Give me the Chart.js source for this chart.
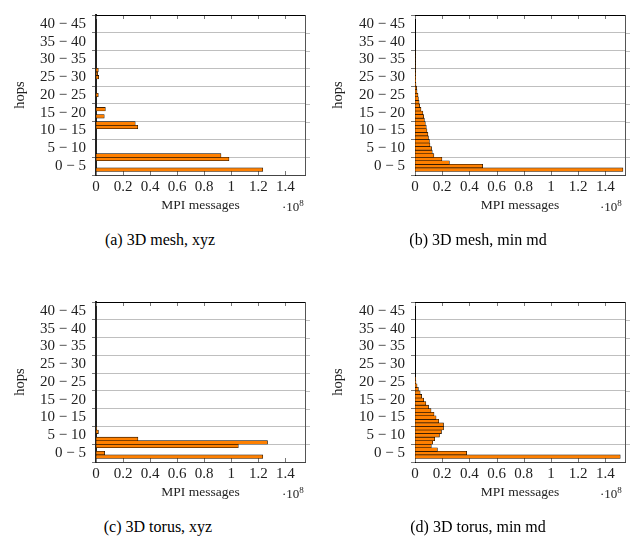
<!DOCTYPE html>
<html>
<head>
<meta charset="utf-8">
<script src="https://cdn.jsdelivr.net/npm/chart.js@4.4.1/dist/chart.umd.min.js"></script>
<style>
  body { margin: 0; background: #fff; }
  #page { position: relative; width: 636px; height: 546px; font-family: 'Liberation Serif', serif; color: #000; }
  canvas { position: absolute; }
  .cap { position: absolute; font-size: 16px; transform: translateX(-50%); white-space: nowrap; }
  .exp { position: absolute; font-size: 13px; color: #222; white-space: nowrap; }
  .exp sup { font-size: 9px; }
</style>
</head>
<body>
<div id="page">
  <canvas id="meshXyz" width="318" height="215" style="left:0;top:0"></canvas>
  <canvas id="meshMinMd" width="318" height="215" style="left:318px;top:0"></canvas>
  <canvas id="torusXyz" width="318" height="215" style="left:0;top:287px"></canvas>
  <canvas id="torusMinMd" width="318" height="215" style="left:318px;top:287px"></canvas>

  <div class="exp" style="left:282px;top:198px">·10<sup>8</sup></div>
  <div class="exp" style="left:600px;top:198px">·10<sup>8</sup></div>
  <div class="exp" style="left:282px;top:485px">·10<sup>8</sup></div>
  <div class="exp" style="left:600px;top:485px">·10<sup>8</sup></div>

  <div class="cap" style="left:160px;top:231px">(a) 3D mesh, xyz</div>
  <div class="cap" style="left:478px;top:231px">(b) 3D mesh, min md</div>
  <div class="cap" style="left:158px;top:518px">(c) 3D torus, xyz</div>
  <div class="cap" style="left:478px;top:518px">(d) 3D torus, min md</div>
</div>
<script>
// hop counts (one bar each) and the 5-hop bins shown on the axis
const hops = [0, 1, 2, 3, 4, 5, 6, 7, 8, 9, 10, 11, 12, 13, 14, 15, 16, 17, 18, 19, 20, 21,
              22, 23, 24, 25, 26, 27, 28, 29, 30, 31, 32, 33, 34, 35, 36, 37, 38, 39, 40, 41, 42, 43, 44];
const binLabels = ['0 − 5', '5 − 10', '10 − 15', '15 − 20', '20 − 25', '25 − 30', '30 − 35', '35 − 40', '40 − 45'];
const xTicks = [0, 0.2, 0.4, 0.6, 0.8, 1, 1.2, 1.4];
const xMax = 1.545;

// MPI messages (x 10^8) per hop count, starting at hop 0
const meshXyz = [0, 1.233, 0, 0, 0.983, 0.924, 0, 0, 0, 0, 0, 0, 0, 0.309, 0.29, 0, 0.061, 0, 0.069,
                 0, 0, 0, 0.017, 0, 0, 0, 0, 0.02, 0.012, 0.017];
const meshMinMd = [0, 1.53, 0.498, 0.253, 0.198, 0.139, 0.127, 0.122, 0.11, 0.106, 0.099, 0.095, 0.088,
                   0.083, 0.076, 0.069, 0.064, 0.058, 0.044, 0.034, 0.03, 0.025, 0.022, 0.015, 0.012,
                   0.007, 0.005, 0.004, 0.003, 0.002, 0.0015, 0.001, 0.0008, 0.0005, 0.0003];
const torusXyz = [0, 1.233, 0.064, 0, 1.052, 1.268, 0.31, 0, 0.018, 0.003];
const torusMinMd = [0, 1.51, 0.38, 0.165, 0.12, 0.13, 0.145, 0.18, 0.195, 0.21, 0.21, 0.175, 0.155,
                    0.14, 0.118, 0.1, 0.08, 0.064, 0.049, 0.038, 0.025, 0.015, 0.007, 0.003];

Chart.defaults.font.family = "'Liberation Serif', serif";

// box round the plot, inward x ticks, gridline stubs on the right
const frame = {
  id: 'frame',
  beforeDatasetsDraw(chart) {
    const {ctx, chartArea: a, scales} = chart;
    ctx.save();
    ctx.lineWidth = 1;
    ctx.strokeStyle = '#777';
    ctx.beginPath();
    xTicks.forEach(v => {
      const px = Math.round(scales.x.getPixelForValue(v)) + 0.5;
      ctx.moveTo(px, a.top); ctx.lineTo(px, a.top + 4);
      ctx.moveTo(px, a.bottom); ctx.lineTo(px, a.bottom - 4);
    });
    ctx.stroke();
    ctx.strokeStyle = 'rgba(0,0,0,0.25)';
    ctx.beginPath();
    for (let k = 1; k < binLabels.length; k++) {
      const py = Math.round((scales.yHops.getPixelForValue(5 * k - 1) + scales.yHops.getPixelForValue(5 * k)) / 2) + 0.5;
      ctx.moveTo(a.right, py); ctx.lineTo(a.right + 5, py);
    }
    ctx.stroke();
    ctx.strokeStyle = '#000';
    ctx.beginPath();
    ctx.moveTo(a.left, Math.round(a.top) + 0.5); ctx.lineTo(a.right, Math.round(a.top) + 0.5);
    ctx.stroke();
    ctx.strokeStyle = '#555';
    ctx.beginPath();
    ctx.moveTo(Math.round(a.right) + 0.5, a.top); ctx.lineTo(Math.round(a.right) + 0.5, a.bottom);
    ctx.stroke();
    ctx.restore();
  }
};

function histogram(id, values, col, leftWidth) {
  return new Chart(document.getElementById(id), {
    type: 'bar',
    data: {
      labels: hops,
      datasets: [{
        data: values,
        yAxisID: 'yHops',
        backgroundColor: '#ff8000',
        borderColor: '#000',
        borderWidth: 0.6,
        borderSkipped: false,
        barPercentage: 1,
        categoryPercentage: 1
      }]
    },
    options: {
      indexAxis: 'y',
      responsive: false,
      animation: false,
      events: [],
      layout: { padding: { top: 1, right: col ? 11 : 13, left: 0, bottom: 0 } },
      plugins: { legend: { display: false }, tooltip: { enabled: false } },
      scales: {
        x: {
          type: 'linear', min: 0, max: xMax,
          afterBuildTicks: s => { s.ticks = xTicks.map(v => ({ value: v })); },
          afterFit: s => { s.height = 40; },
          grid: { display: false, drawTicks: false },
          border: { color: '#444', width: 1 },
          ticks: { padding: 3, color: '#222', font: { size: 15 }, callback: v => String(v) },
          title: { display: true, text: 'MPI messages', color: '#222', font: { size: 13.5 }, padding: { top: 0, bottom: 1 } }
        },
        yHops: { type: 'category', display: false, reverse: true, offset: true },
        y: {
          type: 'category', labels: binLabels, reverse: true, offset: true,
          afterFit: s => { s.width = col ? 97 : 96; },
          grid: { offset: true, color: 'rgba(0,0,0,0.25)', tickLength: 4, tickColor: '#777' },
          border: { color: leftWidth > 1 ? '#222' : '#000', width: leftWidth },
          ticks: { padding: 6, color: '#222', font: { size: 15 }, autoSkip: false },
          title: { display: true, text: 'hops', color: '#222', font: { size: 14.5 }, padding: { top: 11, bottom: 0 } }
        }
      }
    },
    plugins: [frame]
  });
}

histogram('meshXyz', meshXyz, 0, 2);
histogram('meshMinMd', meshMinMd, 1, 1);
histogram('torusXyz', torusXyz, 0, 2);
histogram('torusMinMd', torusMinMd, 1, 1);
</script>
</body>
</html>
